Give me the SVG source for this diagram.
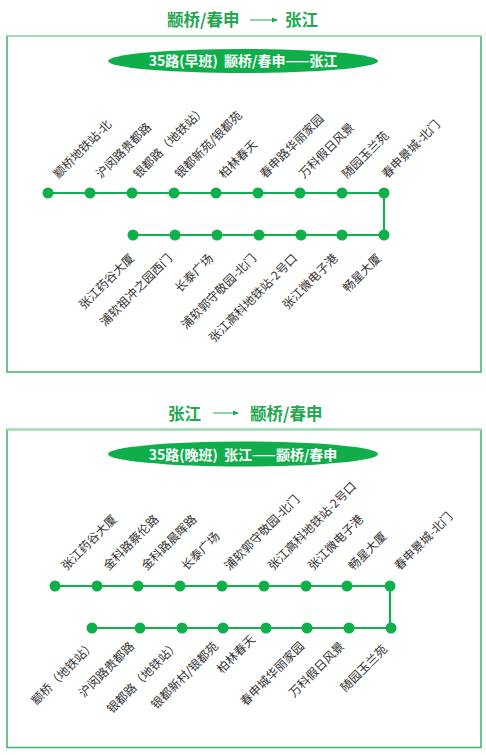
<svg xmlns="http://www.w3.org/2000/svg" width="486" height="755" viewBox="0 0 486 755">
<defs>
<marker id="ah" viewBox="0 0 6 6" refX="5" refY="3" markerWidth="6" markerHeight="6" orient="auto" markerUnits="userSpaceOnUse">
<path d="M0,0.5 L6,3 L0,5.5 Z" fill="#22a84f"/>
</marker>
</defs>
<style>
.title{font-family:"Noto Sans CJK SC","Noto Sans",sans-serif;font-size:16.5px;font-weight:bold;fill:#22a84f}
.banner{font-family:"Noto Sans CJK SC","Noto Sans",sans-serif;font-size:14px;font-weight:bold;fill:#ffffff;white-space:pre}
.lbl{font-family:"Noto Sans CJK SC","Noto Sans",sans-serif;font-size:12px;fill:#333333}
.end{text-anchor:end}
.box{fill:none;stroke:#3bb46a;stroke-width:1.5}
.topline{stroke:#9edbb3;stroke-width:2}
.route{fill:none;stroke:#14b04e;stroke-width:2.2}
.stop{fill:#0fb04c}
.ell{fill:#0fae4b}
.arr{stroke:#22a84f;stroke-width:1}
</style>

<!-- ============ TOP SECTION ============ -->
<g id="title-top">
<text class="title" x="167" y="26">颛桥/春申</text>
<line class="arr" x1="250" y1="20" x2="277" y2="20" marker-end="url(#ah)"/>
<text class="title" x="285" y="26">张江</text>
</g>
<g id="box-top">
<rect class="box" x="7" y="36" width="474" height="336"/>
<line class="topline" x1="7" y1="36" x2="481" y2="36"/>
</g>
<g id="banner-top">
<ellipse class="ell" cx="243" cy="61" rx="135" ry="12"/>
<text class="banner" x="243" y="66" text-anchor="middle">35路(早班)  颛桥/春申——张江</text>
</g>

<g id="connectors-top">
<polyline class="route" points="48,193 384,193 384,235 133,235"/>
</g>

<g id="t-u1"><circle class="stop" cx="48" cy="193" r="5.5"/><text class="lbl" transform="translate(58.5,179) rotate(-45)">颛桥地铁站-北</text></g>
<g id="t-u2"><circle class="stop" cx="90" cy="193" r="5.5"/><text class="lbl" transform="translate(101,179) rotate(-45)">沪闵路贵都路</text></g>
<g id="t-u3"><circle class="stop" cx="132" cy="193" r="5.5"/><text class="lbl" transform="translate(138.5,179) rotate(-45)">银都路（地铁站）</text></g>
<g id="t-u4"><circle class="stop" cx="174" cy="193" r="5.5"/><text class="lbl" transform="translate(180,179) rotate(-45)">银都新苑/银都苑</text></g>
<g id="t-u5"><circle class="stop" cx="216" cy="193" r="5.5"/><text class="lbl" transform="translate(224,179) rotate(-45)">柏林春天</text></g>
<g id="t-u6"><circle class="stop" cx="258" cy="193" r="5.5"/><text class="lbl" transform="translate(265,179) rotate(-45)">春申路华丽家园</text></g>
<g id="t-u7"><circle class="stop" cx="300" cy="193" r="5.5"/><text class="lbl" transform="translate(304,179) rotate(-45)">万科假日风景</text></g>
<g id="t-u8"><circle class="stop" cx="342" cy="193" r="5.5"/><text class="lbl" transform="translate(347,179) rotate(-45)">随园玉兰苑</text></g>
<g id="t-u9"><circle class="stop" cx="384" cy="193" r="5.5"/><text class="lbl" transform="translate(387,179) rotate(-45)">春申景城-北门</text></g>

<g id="t-l1"><circle class="stop" cx="133" cy="235" r="5.5"/><text class="lbl end" transform="translate(135,259) rotate(-45)">张江药谷大厦</text></g>
<g id="t-l2"><circle class="stop" cx="175" cy="235" r="5.5"/><text class="lbl end" transform="translate(173,259) rotate(-45)">浦软祖冲之园西门</text></g>
<g id="t-l3"><circle class="stop" cx="217" cy="235" r="5.5"/><text class="lbl end" transform="translate(214,259) rotate(-45)">长泰广场</text></g>
<g id="t-l4"><circle class="stop" cx="259" cy="235" r="5.5"/><text class="lbl end" transform="translate(257,259) rotate(-45)">浦软郭守敬园-北门</text></g>
<g id="t-l5"><circle class="stop" cx="301" cy="235" r="5.5"/><text class="lbl end" transform="translate(298,259) rotate(-45)">张江高科地铁站-2号口</text></g>
<g id="t-l6"><circle class="stop" cx="342" cy="235" r="5.5"/><text class="lbl end" transform="translate(338.5,259) rotate(-45)">张江微电子港</text></g>
<g id="t-l7"><circle class="stop" cx="384" cy="235" r="5.5"/><text class="lbl end" transform="translate(382,259) rotate(-45)">畅星大厦</text></g>

<!-- ============ BOTTOM SECTION ============ -->
<g id="title-bottom">
<text class="title" x="168" y="420">张江</text>
<line class="arr" x1="213" y1="413" x2="238" y2="413" marker-end="url(#ah)"/>
<text class="title" x="250" y="420">颛桥/春申</text>
</g>
<g id="box-bottom">
<rect class="box" x="7" y="429.5" width="474" height="318"/>
<line class="topline" x1="7" y1="429.5" x2="481" y2="429.5"/>
</g>
<g id="banner-bottom">
<ellipse class="ell" cx="243" cy="454" rx="135" ry="12.5"/>
<text class="banner" x="243" y="459.5" text-anchor="middle">35路(晚班)  张江——颛桥/春申</text>
</g>

<g id="connectors-bottom">
<polyline class="route" points="55,586 390,586 390,628 92,628"/>
</g>

<g id="b-u1"><circle class="stop" cx="55" cy="586" r="5.5"/><text class="lbl" transform="translate(66.5,571) rotate(-45)">张江药谷大厦</text></g>
<g id="b-u2"><circle class="stop" cx="97" cy="586" r="5.5"/><text class="lbl" transform="translate(108.5,571) rotate(-45)">金科路蔡伦路</text></g>
<g id="b-u3"><circle class="stop" cx="138" cy="586" r="5.5"/><text class="lbl" transform="translate(146.5,571) rotate(-45)">金科路晨晖路</text></g>
<g id="b-u4"><circle class="stop" cx="180" cy="586" r="5.5"/><text class="lbl" transform="translate(186.5,571) rotate(-45)">长泰广场</text></g>
<g id="b-u5"><circle class="stop" cx="222" cy="586" r="5.5"/><text class="lbl" transform="translate(229.5,571) rotate(-45)">浦软郭守敬园-北门</text></g>
<g id="b-u6"><circle class="stop" cx="264" cy="586" r="5.5"/><text class="lbl" transform="translate(273,571) rotate(-45)">张江高科地铁站-2号口</text></g>
<g id="b-u7"><circle class="stop" cx="306" cy="586" r="5.5"/><text class="lbl" transform="translate(313,571) rotate(-45)">张江微电子港</text></g>
<g id="b-u8"><circle class="stop" cx="347" cy="586" r="5.5"/><text class="lbl" transform="translate(353.5,571) rotate(-45)">畅星大厦</text></g>
<g id="b-u9"><circle class="stop" cx="390" cy="586" r="5.5"/><text class="lbl" transform="translate(399.5,571) rotate(-45)">春申景城-北门</text></g>

<g id="b-l1"><circle class="stop" cx="92" cy="628" r="5.5"/><text class="lbl end" transform="translate(96,646) rotate(-45)">颛桥（地铁站）</text></g>
<g id="b-l2"><circle class="stop" cx="140" cy="628" r="5.5"/><text class="lbl end" transform="translate(135,647) rotate(-45)">沪闵路贵都路</text></g>
<g id="b-l3"><circle class="stop" cx="182" cy="628" r="5.5"/><text class="lbl end" transform="translate(180,646) rotate(-45)">银都路（地铁站）</text></g>
<g id="b-l4"><circle class="stop" cx="223" cy="628" r="5.5"/><text class="lbl end" transform="translate(219,647) rotate(-45)">银都新村/银都苑</text></g>
<g id="b-l5"><circle class="stop" cx="266" cy="628" r="5.5"/><text class="lbl end" transform="translate(256,640) rotate(-45)">柏林春天</text></g>
<g id="b-l6"><circle class="stop" cx="307" cy="628" r="5.5"/><text class="lbl end" transform="translate(305,647) rotate(-45)">春申城华丽家园</text></g>
<g id="b-l7"><circle class="stop" cx="349" cy="628" r="5.5"/><text class="lbl end" transform="translate(345,647) rotate(-45)">万科假日风景</text></g>
<g id="b-l8"><circle class="stop" cx="391" cy="628" r="5.5"/><text class="lbl end" transform="translate(388,650) rotate(-45)">随园玉兰苑</text></g>
</svg>
